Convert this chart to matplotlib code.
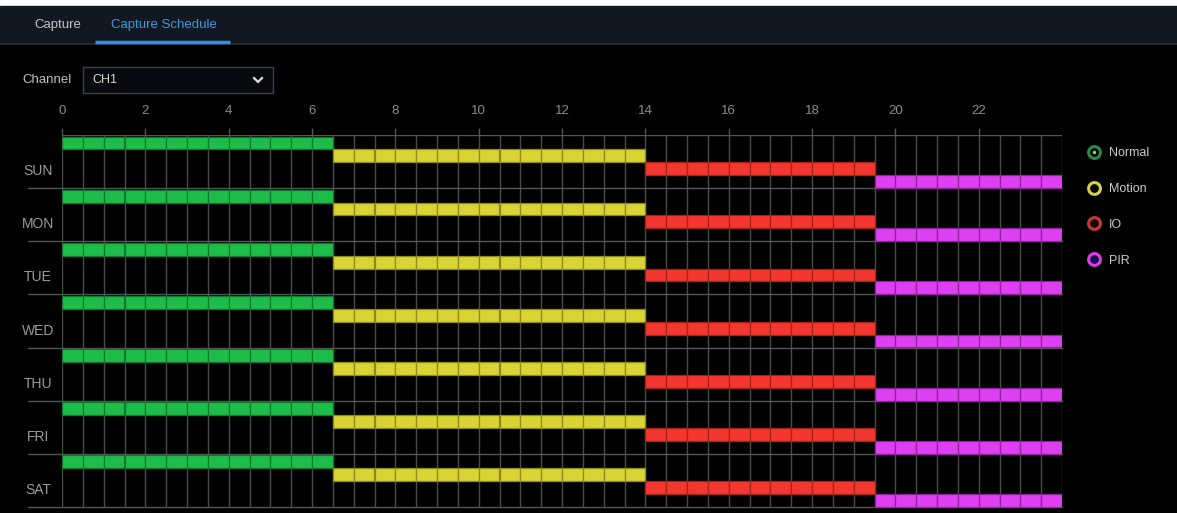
import numpy as np
import matplotlib
matplotlib.use("Agg")
import matplotlib.pyplot as plt
from matplotlib.lines import Line2D
from matplotlib.patches import Rectangle

plt.rcParams["font.family"] = ["Liberation Sans", "DejaVu Sans"]

# schedule data: every day uses the same blocks (hours)
days = ["SUN", "MON", "TUE", "WED", "THU", "FRI", "SAT"]
modes = ["Normal", "Motion", "IO", "PIR"]
mode_start = [0, 6.5, 14, 19.5]
mode_end = [6.5, 14, 19.5, 24]
hour_ticks = [0, 2, 4, 6, 8, 10, 12, 14, 16, 18, 20, 22]

bar_colors = ["#1ebd4a", "#d9d334", "#f3372e", "#de3ff2"]
cell_edges = ["#0c7a2c", "#8f8a1c", "#a3231b", "#8e2499"]
ring_colors = ["#2f8a45", "#d8d03c", "#c53b32", "#e23ae6"]
ring_faces = ["#000000", "#000000", "#1e0505", "#14104a"]

W, H = 1177, 513
fig = plt.figure(figsize=(W / 100, H / 100), dpi=100, facecolor="black")

# overlay in pixel coords for the UI chrome
ui = fig.add_axes([0, 0, 1, 1])
ui.set_xlim(0, W)
ui.set_ylim(H, 0)
ui.axis("off")
ui.add_patch(Rectangle((0, 0), W, 6, color="white"))
ui.add_patch(Rectangle((0, 6), W, 37, color="#111821"))
ui.plot([0, W], [43.5, 43.5], color="#27303b", lw=1.2)
ui.text(58, 25, "Capture", color="#c4c4c4", fontsize=9.5, ha="center", va="center")
ui.text(164, 25, "Capture Schedule", color="#3a9be2", fontsize=9.5, ha="center", va="center")
ui.plot([95, 230], [41.5, 41.5], color="#2f90e4", lw=2.5, solid_capstyle="butt")

ui.text(22, 80, "Channel", color="#c0c0c0", fontsize=9.5, ha="left", va="center")
ui.add_patch(Rectangle((83, 67), 190, 26, facecolor="#06090d", edgecolor="#3a424c", lw=1))
ui.text(92, 80, "CH1", color="#d6d6d6", fontsize=9, ha="left", va="center")
ui.plot([254, 258, 262], [78, 82, 78], color="#e0e0e0", lw=1.6)

# schedule grid
ax = fig.add_axes([62 / W, (H - 507) / H, 1000 / W, 372 / H])
ax.set_facecolor("black")
ax.set_xlim(0, 24)
ax.set_ylim(len(days), 0)
for s in ax.spines.values():
    s.set_visible(False)

ax.vlines(np.arange(0, 24.01, 0.5), 0, len(days), color="#4b4b4b", lw=1, zorder=1)
ax.axhline(0, color="#555555", lw=1, zorder=1)
for i in range(1, len(days) + 1):
    ax.axhline(i, xmin=-0.034, xmax=1, color="#555555", lw=1, clip_on=False, zorder=1)

lane_h = 0.242
lane_off = 0.03
for i in range(len(days)):
    for k in range(len(modes)):
        cells = np.arange(mode_start[k], mode_end[k], 0.5)
        ax.bar(cells, lane_h, width=0.5, bottom=i + lane_off + k * lane_h, align="edge",
               color=bar_colors[k], edgecolor=cell_edges[k], lw=0.9, zorder=3)
    ax.text(-0.024, i + 0.68, days[i], transform=ax.get_yaxis_transform(),
            color="#9c9c9c", fontsize=10, ha="center", va="center")

ax.set_yticks([])
ax.set_xticks(hour_ticks)
ax.set_xticklabels([str(h) for h in hour_ticks])
ax.tick_params(axis="x", top=True, labeltop=True, bottom=False, labelbottom=False,
               length=5, width=1, color="#555555", labelcolor="#8c8c8c",
               labelsize=9.5, pad=8)

handles = []
for k in range(len(modes)):
    ring = Line2D([], [], ls="none", marker="o", markersize=8.5,
                  markerfacecolor=ring_faces[k], markeredgecolor=ring_colors[k],
                  markeredgewidth=2.2)
    if k == 0:
        dot = Line2D([], [], ls="none", marker="o", markersize=2.5,
                     markerfacecolor="#8fd89c", markeredgecolor="none")
        handles.append((ring, dot))
    else:
        handles.append(ring)
ax.legend(handles, modes, loc="upper left", bbox_to_anchor=(1080 / W, 1 - 141 / H),
          bbox_transform=fig.transFigure, frameon=False, fontsize=9,
          labelcolor="#cacaca", handlelength=1.2, handletextpad=0.6,
          labelspacing=1.9, borderpad=0)

fig.savefig("out.png", dpi=100, facecolor="black")
